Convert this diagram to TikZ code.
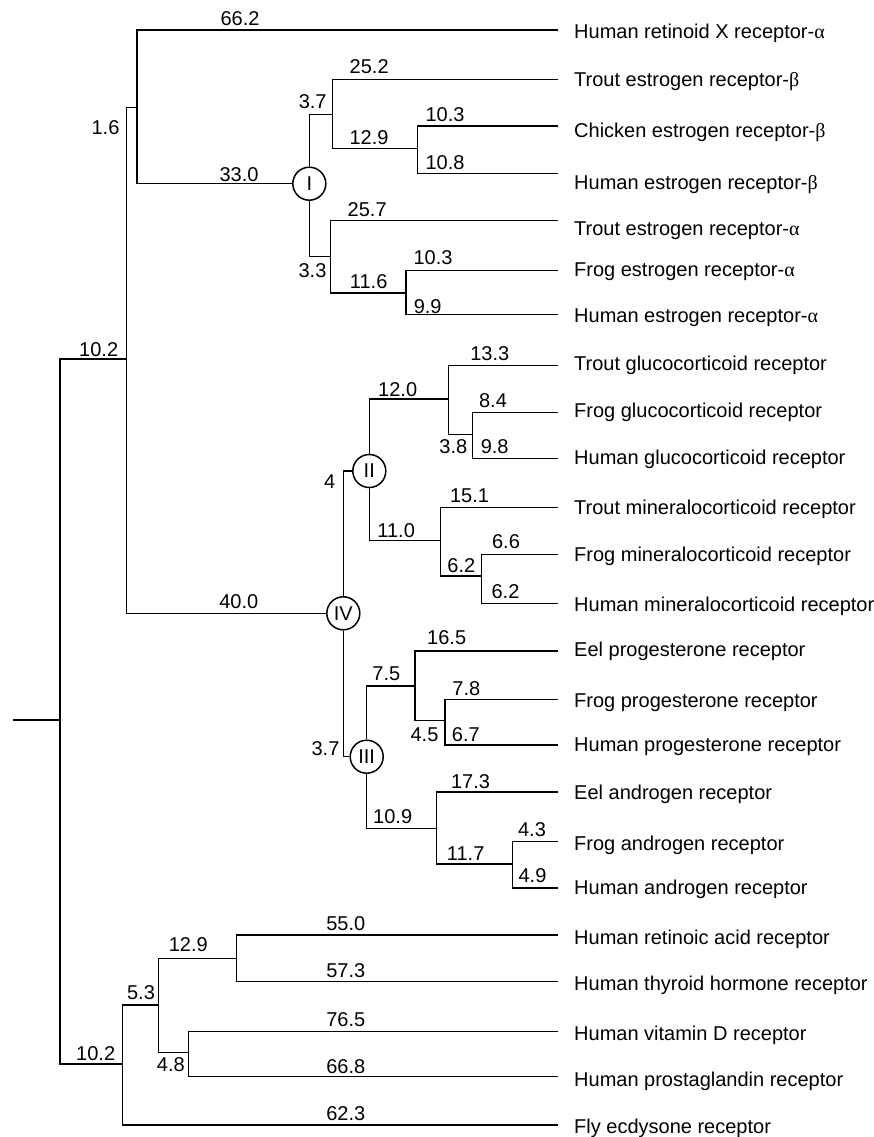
\documentclass[tikz,border=0pt]{standalone}
\usepackage{fontspec}
\setmainfont{Liberation Sans}
\newfontfamily\greekfont{Liberation Serif}
\newcommand{\galpha}{{\greekfont α}}
\newcommand{\gbeta}{{\greekfont β}}
\begin{document}
\begin{tikzpicture}[x=1pt,y=-1pt,
  font=\fontsize{20}{24}\selectfont,
  branch/.style={line width=1.5pt},
  clade/.style={circle, draw, line width=1.5pt, minimum size=33pt, inner sep=0pt},
  num/.style={anchor=center, inner sep=0pt},
  leaflabel/.style={anchor=base west, inner sep=0pt, yshift=-7.1pt}]
\useasboundingbox (0,0) rectangle (874,1137);

% internal nodes
\coordinate (stub) at (13.3,720);
\coordinate (root) at (60,720);
\coordinate (A) at (126.7,359);
\coordinate (B) at (137,107.3);
\node[clade] (I) at (309.3,183.7) {I};
\coordinate (C1) at (332.3,114.3);
\coordinate (D1) at (417.3,148.7);
\coordinate (C2) at (330.7,256.7);
\coordinate (D2) at (406,293);
\node[clade] (IV) at (343.3,613.3) {IV};
\node[clade] (II) at (369.3,471) {II};
\coordinate (G1) at (448.3,399);
\coordinate (G2) at (472.7,434.3);
\coordinate (M1) at (440.7,540.7);
\coordinate (M2) at (481.7,576);
\node[clade] (III) at (366.7,756.7) {III};
\coordinate (P1) at (415,686);
\coordinate (P2) at (445,720.7);
\coordinate (R1) at (436.7,828.7);
\coordinate (R2) at (512.3,864);
\coordinate (L) at (122.7,1064);
\coordinate (L2) at (158.3,1005);
\coordinate (L3) at (236.3,958.3);
\coordinate (L4) at (188.3,1052.3);

% leaves and their names
\foreach \i/\ly/\ty/\txt in {
  1/30/31.7/Human retinoid X receptor-\galpha,
  2/79.3/79.3/Trout estrogen receptor-\gbeta,
  3/126/130.8/Chicken estrogen receptor-\gbeta,
  4/173.3/182.7/Human estrogen receptor-\gbeta,
  5/220.7/228.7/Trout estrogen receptor-\galpha,
  6/270.7/269.3/Frog estrogen receptor-\galpha,
  7/314.7/315/Human estrogen receptor-\galpha,
  8/365.3/363/Trout glucocorticoid receptor,
  9/412.3/410.8/Frog glucocorticoid receptor,
  10/458.3/457.3/Human glucocorticoid receptor,
  11/507.3/507/Trout mineralocorticoid receptor,
  12/554.3/554/Frog mineralocorticoid receptor,
  13/603.3/604/Human mineralocorticoid receptor,
  14/651/649.7/Eel progesterone receptor,
  15/699.3/700/Frog progesterone receptor,
  16/745/744.3/Human progesterone receptor,
  17/792/792.5/Eel androgen receptor,
  18/841.3/843/Frog androgen receptor,
  19/888/887.3/Human androgen receptor,
  20/935/937/Human retinoic acid receptor,
  21/981.3/983/Human thyroid hormone receptor,
  22/1031.7/1033.8/Human vitamin D receptor,
  23/1076.7/1079.7/Human prostaglandin receptor,
  24/1125/1126.7/Fly ecdysone receptor}{
  \coordinate (leaf\i) at (557.7,\ly);
  \node[leaflabel] (name\i) at (574,\ty) {\txt};
}

% branches
\draw[branch] (stub) -- (root);
\draw[branch] (root) |- (A);
\draw[branch] (root) |- (L);
\draw[branch] (A) |- (B);
\draw[branch] (A) |- (IV);
\draw[branch] (B) |- (leaf1);
\draw[branch] (B) |- (I);
\draw[branch] (I) |- (C1);
\draw[branch] (I) |- (C2);
\draw[branch] (C1) |- (leaf2);
\draw[branch] (C1) |- (D1);
\draw[branch] (D1) |- (leaf3);
\draw[branch] (D1) |- (leaf4);
\draw[branch] (C2) |- (leaf5);
\draw[branch] (C2) |- (D2);
\draw[branch] (D2) |- (leaf6);
\draw[branch] (D2) |- (leaf7);
\draw[branch] (IV) |- (II);
\draw[branch] (IV) |- (III);
\draw[branch] (II) |- (G1);
\draw[branch] (II) |- (M1);
\draw[branch] (G1) |- (leaf8);
\draw[branch] (G1) |- (G2);
\draw[branch] (G2) |- (leaf9);
\draw[branch] (G2) |- (leaf10);
\draw[branch] (M1) |- (leaf11);
\draw[branch] (M1) |- (M2);
\draw[branch] (M2) |- (leaf12);
\draw[branch] (M2) |- (leaf13);
\draw[branch] (III) |- (P1);
\draw[branch] (III) |- (R1);
\draw[branch] (P1) |- (leaf14);
\draw[branch] (P1) |- (P2);
\draw[branch] (P2) |- (leaf15);
\draw[branch] (P2) |- (leaf16);
\draw[branch] (R1) |- (leaf17);
\draw[branch] (R1) |- (R2);
\draw[branch] (R2) |- (leaf18);
\draw[branch] (R2) |- (leaf19);
\draw[branch] (L) |- (L2);
\draw[branch] (L) |- (leaf24);
\draw[branch] (L2) |- (L3);
\draw[branch] (L2) |- (L4);
\draw[branch] (L3) |- (leaf20);
\draw[branch] (L3) |- (leaf21);
\draw[branch] (L4) |- (leaf22);
\draw[branch] (L4) |- (leaf23);

% branch lengths
\foreach \k/\x/\y/\v in {
  a/98.7/349.3/10.2, b/105.5/127.3/1.6, c/240/18.3/66.2, d/239/174.2/33.0,
  e/312.7/101.3/3.7, f/369.2/66.7/25.2, g/369/138/12.9, h/445/114.7/10.3,
  i/445/163/10.8, j/367.2/209.7/25.7, k/312.5/270.5/3.3, l/368.7/281.3/11.6,
  m/433/257.8/10.3, n/427.7/306.7/9.9, o/238.8/601.3/40.0, p/329.7/481.8/4,
  q/397.7/389.2/12.0, r/489.8/353.7/13.3, s/493/400.7/8.4, t/453.3/446.7/3.8,
  u/494.7/446.7/9.8, v/396.2/530.3/11.0, w/469.5/495.3/15.1, x/461.3/566/6.2,
  y/506/542/6.6, z/505.5/591.7/6.2, aa/325.5/748.7/3.7, ab/386.3/674/7.5,
  ac/446.7/637.5/16.5, ad/424.5/735/4.5, ae/466.3/688.3/7.8, af/465.8/735/6.7,
  ag/392.7/816.3/10.9, ah/470.5/781.3/17.3, ai/465.7/853.8/11.7, aj/532/829.7/4.3,
  ak/532.5/876/4.9, al/188.3/945/12.9, am/141/992.5/5.3, an/345.8/923.2/55.0,
  ao/345.8/970.8/57.3, ap/345.8/1019.2/76.5, aq/345.8/1066.5/66.8,
  ar/95.7/1053.3/10.2, as/170.8/1065/4.8, at/345.8/1113.3/62.3}{
  \node[num] (len\k) at (\x,\y) {\v};
}
\end{tikzpicture}
\end{document}
